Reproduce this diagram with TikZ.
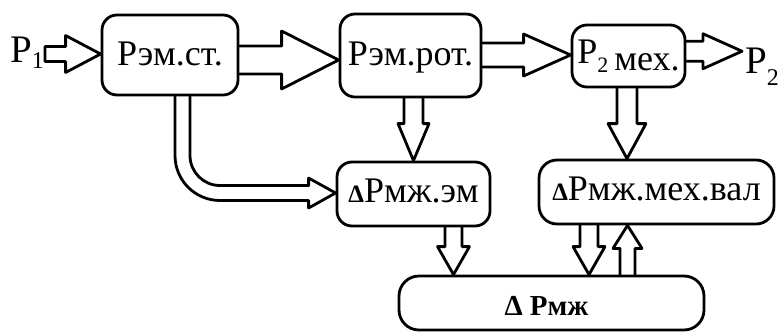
\documentclass[tikz,border=0pt]{standalone}
\usepackage{fontspec}
\setmainfont{LiberationSerif}[Extension=.ttf, UprightFont=*-Regular, BoldFont=*-Bold, ItalicFont=*-Italic, BoldItalicFont=*-BoldItalic]
\usetikzlibrary{calc}

% bold delta used in front of the loss symbols
\newcommand\dsym{{\fontsize{25}{25}\selectfont\bfseries Δ}}

% hollow block arrows: start, tip, shaft half-width, head half-width, head length
\newcommand\hollowright[5]{%
  \draw[hollow] let \p1=(#1), \p2=(#2) in
    (\x1,\y2+#3pt) -- (\x2-#5pt,\y2+#3pt) -- (\x2-#5pt,\y2+#4pt) -- (\p2)
    -- (\x2-#5pt,\y2-#4pt) -- (\x2-#5pt,\y2-#3pt) -- (\x1,\y2-#3pt);}
\newcommand\hollowdown[5]{%
  \draw[hollow] let \p1=(#1), \p2=(#2) in
    (\x2-#3pt,\y1) -- (\x2-#3pt,\y2+#5pt) -- (\x2-#4pt,\y2+#5pt) -- (\p2)
    -- (\x2+#4pt,\y2+#5pt) -- (\x2+#3pt,\y2+#5pt) -- (\x2+#3pt,\y1);}
\newcommand\hollowup[5]{%
  \draw[hollow] let \p1=(#1), \p2=(#2) in
    (\x2-#3pt,\y1) -- (\x2-#3pt,\y2-#5pt) -- (\x2-#4pt,\y2-#5pt) -- (\p2)
    -- (\x2+#4pt,\y2-#5pt) -- (\x2+#3pt,\y2-#5pt) -- (\x2+#3pt,\y1);}

\tikzset{
  box/.style={draw, line width=2.8pt, rounded corners=15pt, inner sep=0pt,
    font=\fontsize{36}{36}\selectfont, text depth=0pt},
  hollow/.style={draw, line width=2.8pt, line join=round, line cap=round},
  lbl/.style={inner sep=0pt, font=\fontsize{39}{39}\selectfont}
}

\begin{document}
\begin{tikzpicture}[x=1pt,y=-1pt]
\useasboundingbox (0,0) rectangle (779,335);

% blocks
\node[box, minimum width=136pt, minimum height=80pt, text height=20pt] (b1) at (170,55) {Рэм.ст.};
\node[box, minimum width=141pt, minimum height=83pt, text height=19pt] (b2) at (410.5,55.5) {Рэм.рот.};
\node[box, minimum width=113pt, minimum height=62pt, text height=14pt] (b3) at (628.5,56)
  {P\raisebox{-9pt}{\fontsize{22}{22}\selectfont 2}\,\raisebox{-7pt}{мех.}};
\node[box, minimum width=153pt, minimum height=64pt, text height=16pt] (b4) at (413.5,194) {\dsym Рмж.эм};
\node[box, rounded corners=18pt, minimum width=235pt, minimum height=64pt, text height=16pt] (b5) at (656.5,192) {\dsym Рмж.мех.вал};
\node[box, rounded corners=20pt, minimum width=305pt, minimum height=54pt, text height=24pt,
  font=\fontsize{29}{29}\selectfont\bfseries] (b6) at (551.5,303) {\hspace{-10pt}Δ Рмж};

% input and output labels
\node[lbl, anchor=base west] (P1) at (10,62) {P\raisebox{-6pt}{\fontsize{24}{24}\selectfont 1}};
\node[lbl, anchor=base west] (P2) at (745,73) {P\raisebox{-12pt}{\fontsize{24}{24}\selectfont 2}};

% input arrow (closed tail)
\draw[hollow] let \p1=(P1.east), \p2=($(b1.west)+(0,-1)$) in
  (\x1+1pt,\y2+7.5pt) -- (\x2-35pt,\y2+7.5pt) -- (\x2-35pt,\y2+18.5pt) -- (\p2)
  -- (\x2-35pt,\y2-18.5pt) -- (\x2-35pt,\y2-7.5pt) -- (\x1+1pt,\y2-7.5pt) -- cycle;

% power flow along the top row
\hollowright{b1.east}{$(b2.west)+(0,4.5)$}{14}{29}{57}
\hollowright{b2.east}{$(b3.west)+(0,-1)$}{12}{21}{47}
\hollowright{b3.east}{$(P2.west)+(-3,-15)$}{10}{17.5}{39}

% losses branching downwards
\hollowdown{b2.south}{b4.north}{9.5}{15.5}{37}
\hollowdown{b3.south}{$(b5.north)+(-29.5,0)$}{10}{19}{35}
\hollowdown{$(b4.south)+(40,0)$}{$(b6.north)+(-98,0)$}{8.5}{16}{28}
\hollowdown{$(b5.south)+(-67.5,0)$}{$(b6.north)+(37.5,0)$}{9}{16}{28}
\hollowup{$(b6.north)+(76,0)$}{$(b5.south)+(-29,0)$}{7.5}{14.5}{23}

% bent arrow from the stator block to the stator losses
\draw[hollow, rounded corners=45pt] let \p1=(b1.south), \p2=($(b4.west)+(0,-1)$) in
  (\x1+5pt,\y1) -- (\x1+5pt,\y2-7.5pt) -- (\x2-27pt,\y2-7.5pt);
\draw[hollow] let \p2=($(b4.west)+(0,-1)$) in
  (\x2-27pt,\y2-7.5pt) -- (\x2-27pt,\y2-15pt) -- (\p2) -- (\x2-27pt,\y2+15pt) -- (\x2-27pt,\y2+7.5pt);
\draw[hollow, rounded corners=30pt] let \p1=(b1.south), \p2=($(b4.west)+(0,-1)$) in
  (\x2-27pt,\y2+7.5pt) -- (\x1+20pt,\y2+7.5pt) -- (\x1+20pt,\y1);
\end{tikzpicture}
\end{document}
